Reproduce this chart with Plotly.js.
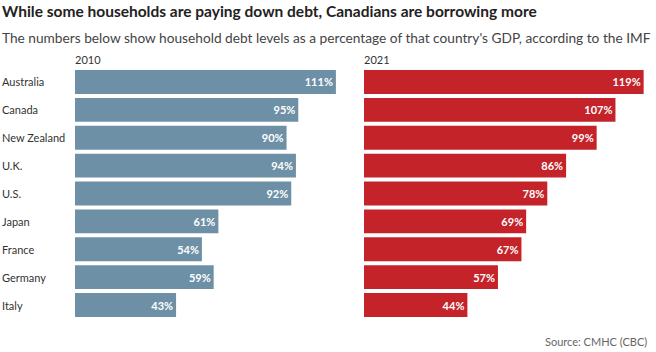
<!DOCTYPE html>
<html><head><meta charset="utf-8">
<script src="https://cdn.plot.ly/plotly-3.0.1.min.js"></script>
<style>html,body{margin:0;padding:0;background:#fff}#chart{width:656px;height:352px}</style>
</head><body><div id="chart"></div>
<script>
const countries = ["Australia","Canada","New Zealand","U.K.","U.S.","Japan","France","Germany","Italy"];
const debt2010 = [111,95,90,94,92,61,54,59,43];
const debt2021 = [119,107,99,86,78,69,67,57,44];
const years = ["2010","2021"];
const FONT = "Lato, 'Noto Sans', sans-serif";
const W = 656, H = 352;
const common = {type:"bar", orientation:"h", y:countries, textposition:"inside", insidetextanchor:"end",
  texttemplate:"%{x}%", textfont:{family:FONT, size:11, color:"#fff", weight:"bold"}, hoverinfo:"skip", cliponaxis:false};
const data = [
  Object.assign({}, common, {x:debt2010, marker:{color:"#6e90a6"}, xaxis:"x", yaxis:"y"}),
  Object.assign({}, common, {x:debt2021, marker:{color:"#c4232a"}, xaxis:"x2", yaxis:"y"})
];
const layout = {
  width:W, height:H, margin:{l:0,r:0,t:68,b:33}, paper_bgcolor:"#fff", plot_bgcolor:"#fff",
  showlegend:false, bargap:0.143,
  font:{family:FONT, color:"#333", size:11},
  xaxis:{domain:[75/W, 350/W], range:[0,117], visible:false, fixedrange:true},
  xaxis2:{domain:[364/W, 650/W], range:[0,121.7], visible:false, fixedrange:true},
  yaxis:{autorange:"reversed", visible:false, fixedrange:true},
  annotations:[]
};
function yp(px){ return (H-33-px)/(H-68-33); }
layout.annotations.push({text:"<b>While some households are paying down debt, Canadians are borrowing more</b>",
  xref:"paper", yref:"paper", x:0, xanchor:"left", y:yp(11), yanchor:"middle", showarrow:false,
  font:{family:FONT, size:15.5, color:"#222"}});
layout.annotations.push({text:"The numbers below show household debt levels as a percentage of that country's GDP, according to the IMF",
  xref:"paper", yref:"paper", x:0, xanchor:"left", y:yp(37), yanchor:"middle", showarrow:false,
  font:{family:FONT, size:13.7, color:"#444"}});
layout.annotations.push({text:years[0], xref:"x", yref:"paper", x:0, xanchor:"left", y:yp(59), yanchor:"middle", showarrow:false, font:{family:FONT,size:11,color:"#333"}, xshift:-2});
layout.annotations.push({text:years[1], xref:"x2", yref:"paper", x:0, xanchor:"left", y:yp(59), yanchor:"middle", showarrow:false, font:{family:FONT,size:11,color:"#333"}, xshift:-2});
layout.annotations.push({text:"Source: CMHC (CBC)", xref:"paper", yref:"paper", x:1, xanchor:"right", y:yp(341), yanchor:"middle", showarrow:false, xshift:-7, font:{family:FONT,size:11,color:"#666"}});
countries.forEach(c=>{
  layout.annotations.push({text:c, xref:"paper", yref:"y", x:0, xanchor:"left", y:c, yanchor:"middle", showarrow:false, xshift:0, font:{family:FONT,size:11,color:"#333"}});
});
Plotly.newPlot("chart", data, layout, {displayModeBar:false, staticPlot:true});
</script></body></html>
